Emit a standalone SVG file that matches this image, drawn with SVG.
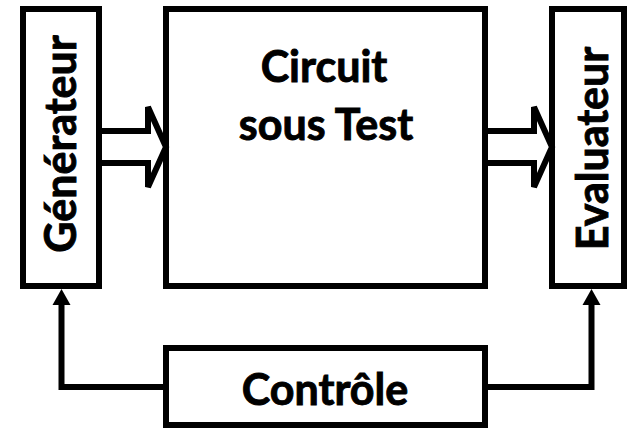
<svg xmlns="http://www.w3.org/2000/svg" width="629" height="429" viewBox="0 0 629 429">
<style>
.box{fill:none;stroke:#000;stroke-width:6}
.lbl{font-family:Lato,"Open Sans","Liberation Sans",sans-serif;font-weight:bold;font-size:43px;fill:#000;stroke:#000;stroke-width:0.9;text-anchor:middle}
.big{fill:#fff;stroke:#000;stroke-width:6;stroke-linejoin:miter}
.ctl{fill:none;stroke:#000;stroke-width:6}
</style>
<rect width="629" height="429" fill="#fff"/>
<g id="connectors">
<path class="big" d="M102,131 H148 V107 L166,147 L148,187 V163 H102"/>
<path class="big" d="M488,131 H534 V107 L552,147 L534,187 V163 H488"/>
<path class="ctl" d="M163,387 H61.5 V302"/>
<polygon points="52.5,305 70.5,305 61.5,289"/>
<path class="ctl" d="M488,387 H591.5 V302"/>
<polygon points="582.5,305 600.5,305 591.5,289"/>
</g>
<g id="generateur">
<rect class="box" x="23" y="9" width="76" height="277"/>
<text class="lbl" transform="translate(76,144) rotate(-90)">Générateur</text>
</g>
<g id="circuit">
<rect class="box" x="166" y="9" width="319" height="277"/>
<text class="lbl" x="324" y="82">Circuit</text>
<text class="lbl" x="326" y="140">sous Test</text>
</g>
<g id="evaluateur">
<rect class="box" x="552" y="9" width="72" height="277"/>
<text class="lbl" transform="translate(608,148.5) rotate(-90)">Evaluateur</text>
</g>
<g id="controle">
<rect class="box" x="166" y="348" width="319" height="77"/>
<text class="lbl" x="325" y="405">Contrôle</text>
</g>
</svg>
